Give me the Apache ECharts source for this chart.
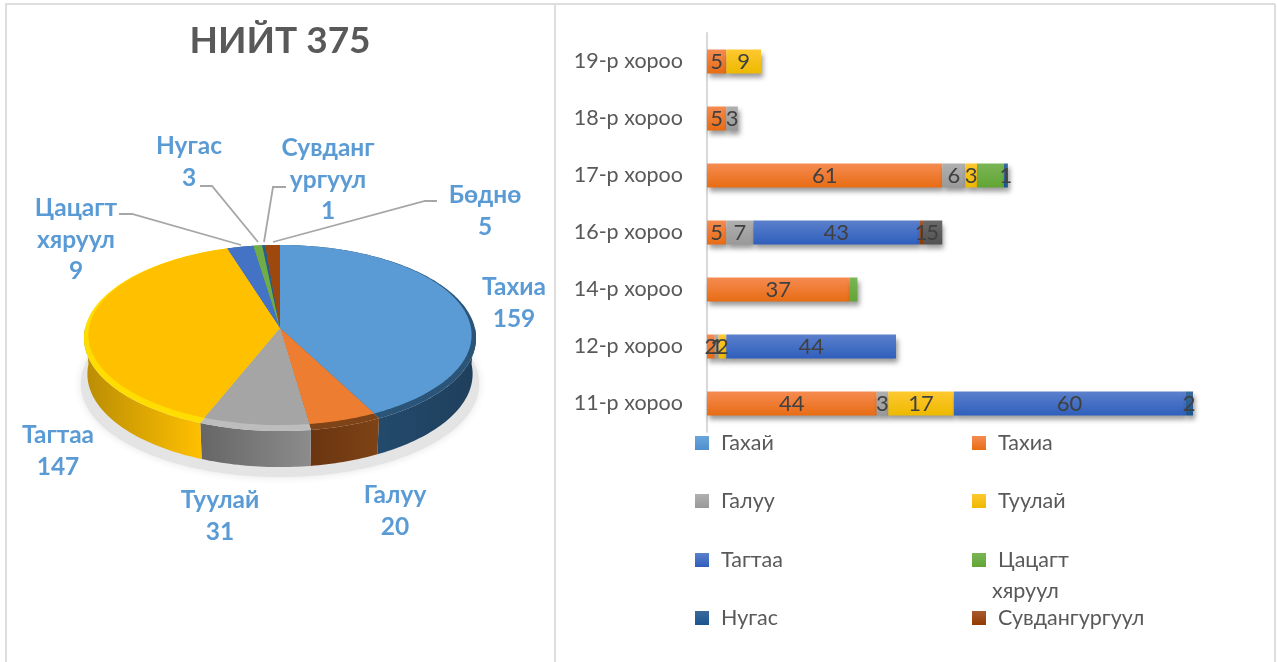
<!DOCTYPE html>
<html>
<head>
<meta charset="utf-8">
<title>НИЙТ 375</title>
<style>
html, body {margin: 0; padding: 0; background: #fff;}
#main {width: 1277px; height: 662px;}
</style>
<script src="https://cdn.jsdelivr.net/npm/echarts@6/dist/echarts.min.js"></script>
</head>
<body>
<div id="main"></div>
<script>
// pie values
var pieNames = ['Тахиа', 'Галуу', 'Туулай', 'Тагтаа', 'Цацагт\nхяруул', 'Нугас', 'Сувданг\nургуул', 'Бөднө'];
var pieValues = [159, 20, 31, 147, 9, 3, 1, 5];

// bars, bottom category first
var categories = ['11-р хороо', '12-р хороо', '14-р хороо', '16-р хороо', '17-р хороо', '18-р хороо', '19-р хороо'];
var gakhai = [null, null, null, null, null, null, null];
var takhia = [44, 2, 37, 5, 61, 5, 5];
var galuu = [3, 1, null, 7, 6, 3, null];
var tuulai = [17, 2, null, null, 3, null, 9];
var tagtaa = [60, 44, null, 43, null, null, null];
var tsatsagt = [null, null, 2, null, 7, null, null];
var nugas = [2, null, null, null, 1, null, null];
var suvdan = [null, null, null, 1, null, null, null];
var bodno = [null, null, null, 5, null, null, null];

var FONT = 'Lato, "Open Sans", sans-serif';

// pie drawing styles
var topColors = ['#5B9BD5', '#ED7D31', '#A5A5A5', '#FFC000', '#4472C4', '#70AD47', '#255E91', '#9E480E'];
var rimColors = ['#2A5478', '#7E4316', '#BDBDBD', '#FFDD00', '#2F5597', '#4E7A31', '#1A4266', '#6E320A'];
var wallFrom = ['#1F3F5C', '#7E4316', '#8C8C8C', '#FFC000', '#2F5597', '#4E7A31', '#1A4266', '#6E320A'];
var wallTo = ['#234A6C', '#6A3510', '#666666', '#B98C05', '#2F5597', '#4E7A31', '#1A4266', '#6E320A'];
var pieCx = 280, apexY = 328, pieDepth = 36;
var labelSpots = [[514, 303], [395, 511], [220, 516], [58, 451], [76, 240], [189, 162], [328, 180], [485, 211]];
var leaderLines = {
    4: [[119, 214], [132, 214], [241, 245]],
    5: [[200, 186], [212, 186], [258, 242]],
    6: [[286, 187], [273, 187], [264, 242]],
    7: [[437, 201], [425, 201], [273, 242]]
};

var pieTotal = pieValues.reduce(function(a, b) {return a + b;}, 0);
var pieRows = [];
var running = 0;
pieValues.forEach(function(v) {
    pieRows.push([running, running + v, v]);
    running += v;
});

// circle seen in perspective, k makes the front bigger than the back
function arcPoints(from, to, cy, rx, ry, k) {
    var pts = [];
    var steps = Math.max(2, Math.ceil((to - from) / 0.02));
    for (var i = 0; i <= steps; i++) {
        var a = from + (to - from) * i / steps;
        var w = 1 + k * Math.cos(a);
        pts.push([pieCx + rx * Math.sin(a) / w, cy - ry * Math.cos(a) / w]);
    }
    return pts;
}

function renderSlice(params, api) {
    var i = params.dataIndex;
    var a0 = api.value(0) / pieTotal * Math.PI * 2;
    var a1 = api.value(1) / pieTotal * Math.PI * 2;
    var kids = [];

    // ground shadow, once
    if (i === 0) {
        kids.push({
            type: 'polygon',
            z2: 0,
            shape: {points: arcPoints(0, Math.PI * 2, apexY + 46, 198, 92, 0.1075)},
            style: {fill: '#E4E4E4', shadowColor: '#E4E4E4', shadowBlur: 8}
        });
    }
    // side wall, only the front half shows
    var w0 = Math.max(a0, Math.PI / 2);
    var w1 = Math.min(a1, Math.PI * 1.5);
    if (w1 > w0) {
        var up = arcPoints(w0, w1, apexY, 194.9, 92, 0.1075);
        var down = arcPoints(w0, w1, apexY + pieDepth, 191.5, 92, 0.1075).reverse();
        kids.push({
            type: 'polygon',
            z2: 1,
            shape: {points: up.concat(down)},
            style: {fill: new echarts.graphic.LinearGradient(0, 0, 1, 0, [
                {offset: 0, color: wallTo[i]},
                {offset: 1, color: wallFrom[i]}
            ])}
        });
    }
    // rim and top face
    kids.push({
        type: 'polygon',
        z2: 2,
        shape: {points: [[pieCx, apexY]].concat(arcPoints(a0, a1, apexY, 194.9, 92, 0.1075))},
        style: {fill: rimColors[i]}
    });
    kids.push({
        type: 'polygon',
        z2: 3,
        shape: {points: [[pieCx, apexY]].concat(arcPoints(a0, a1, apexY, 191, 89.5, 0.0778))},
        style: {fill: topColors[i]}
    });
    // leader line
    if (leaderLines[i]) {
        kids.push({
            type: 'polyline',
            z2: 4,
            shape: {points: leaderLines[i]},
            style: {stroke: '#A6A6A6', lineWidth: 1.8, fill: null}
        });
    }
    // label
    kids.push({
        type: 'text',
        z2: 5,
        style: {
            x: labelSpots[i][0],
            y: labelSpots[i][1],
            text: pieNames[i] + '\n' + api.value(2),
            font: 'bold 24.5px ' + FONT,
            lineHeight: 31.5,
            fill: '#5B9BD5',
            align: 'center',
            verticalAlign: 'middle'
        }
    });
    return {type: 'group', children: kids};
}

function barSeries(name, values, top, bottom, showLabel) {
    return {
        name: name,
        type: 'bar',
        stack: 'all',
        barWidth: 24,
        data: values,
        itemStyle: {
            color: new echarts.graphic.LinearGradient(0, 0, 0, 1, [
                {offset: 0, color: top},
                {offset: 1, color: bottom}
            ]),
            shadowColor: 'rgba(0,0,0,0.4)',
            shadowBlur: 5,
            shadowOffsetX: 2,
            shadowOffsetY: 4
        },
        label: {
            show: showLabel,
            position: 'inside',
            color: '#404040',
            fontFamily: FONT,
            fontSize: 22
        }
    };
}

function legendAt(name, left, top, text) {
    return {
        left: left,
        top: top,
        data: [name],
        icon: 'rect',
        itemWidth: 14,
        itemHeight: 14,
        itemGap: 0,
        padding: 0,
        selectedMode: false,
        itemStyle: {shadowBlur: 0, shadowOffsetX: 0, shadowOffsetY: 0},
        formatter: text ? function() {return text;} : undefined,
        textStyle: {color: '#595959', fontFamily: FONT, fontSize: 21.5, padding: [0, 0, 0, 7]}
    };
}

function frameLine(x1, y1, x2, y2) {
    return {
        type: 'line',
        z: -10,
        shape: {x1: x1, y1: y1, x2: x2, y2: y2},
        style: {stroke: '#DEDEDE', lineWidth: 2}
    };
}

var chart = echarts.init(document.getElementById('main'));
chart.setOption({
    animation: false,
    backgroundColor: '#fff',
    title: {
        text: 'НИЙТ 375',
        left: 275,
        top: 18,
        textAlign: 'center',
        textStyle: {color: '#595959', fontFamily: FONT, fontWeight: 'bold', fontSize: 37}
    },
    grid: {left: 707, top: 33, width: 486, height: 399},
    xAxis: {type: 'value', min: 0, max: 126, show: false},
    yAxis: {
        type: 'category',
        data: categories,
        axisLine: {lineStyle: {color: '#D9D9D9', width: 2}},
        axisTick: {show: false},
        axisLabel: {color: '#595959', fontFamily: FONT, fontSize: 21.5, margin: 24}
    },
    legend: [
        legendAt('Гахай', 695, 432),
        legendAt('Тахиа', 972, 432),
        legendAt('Галуу', 695, 490),
        legendAt('Туулай', 972, 490),
        legendAt('Тагтаа', 695, 549),
        legendAt('Цацагт хяруул', 972, 549, 'Цацагт'),
        legendAt('Нугас', 695, 607),
        legendAt('Сувдангургуул', 972, 607)
    ],
    graphic: [
        frameLine(6, 4, 6, 662),
        frameLine(5, 4, 1275, 4),
        frameLine(555, 4, 555, 662),
        frameLine(1275, 4, 1275, 662),
        {
            type: 'text',
            left: 992,
            top: 580,
            style: {text: 'хяруул', fill: '#595959', font: '21.5px ' + FONT}
        }
    ],
    series: [
        barSeries('Гахай', gakhai, '#6AA6DC', '#4F8FCC', false),
        barSeries('Тахиа', takhia, '#F58B51', '#E86C14', true),
        barSeries('Галуу', galuu, '#B0B0B0', '#999999', true),
        barSeries('Туулай', tuulai, '#FFC830', '#EDB900', true),
        barSeries('Тагтаа', tagtaa, '#5B80CC', '#2F5FBC', true),
        barSeries('Цацагт хяруул', tsatsagt, '#7AB555', '#62A535', false),
        barSeries('Нугас', nugas, '#3A6A9C', '#1A5590', true),
        barSeries('Сувдангургуул', suvdan, '#A85A30', '#933A00', true),
        barSeries('Бөднө', bodno, '#6A6A6A', '#525252', true),
        {
            type: 'custom',
            coordinateSystem: 'none',
            renderItem: renderSlice,
            data: pieRows,
            silent: true
        }
    ]
});
</script>
</body>
</html>
